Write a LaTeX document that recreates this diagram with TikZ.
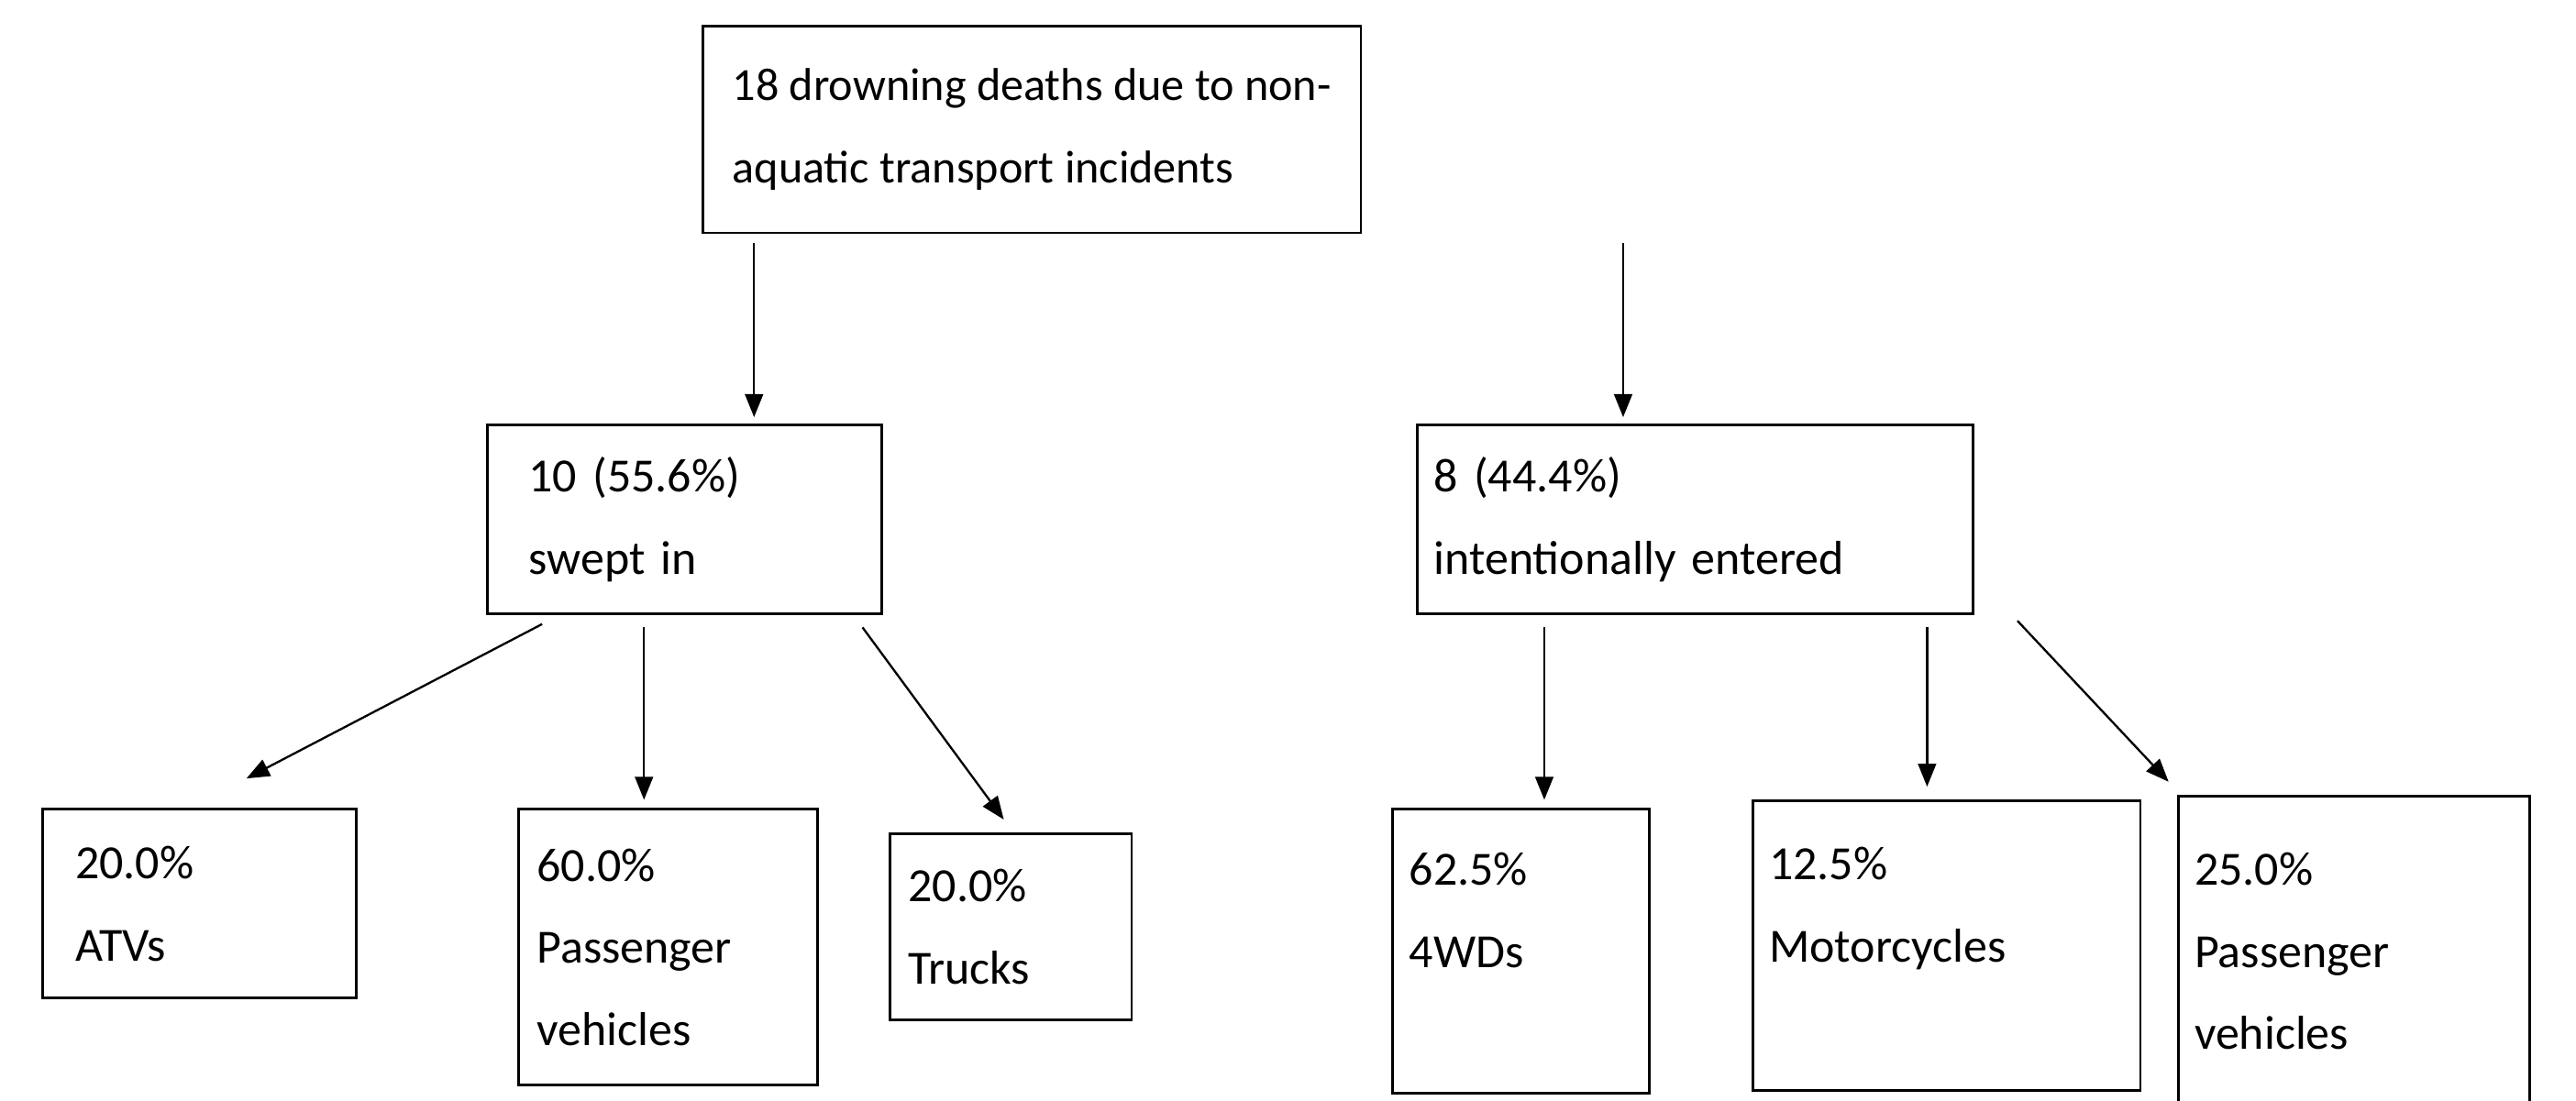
\documentclass[tikz,border=0pt]{standalone}
\usepackage{fontspec}
\setmainfont{Carlito}
\usetikzlibrary{arrows.meta}
\begin{document}
\begin{tikzpicture}[x=1pt,y=-1pt,
  box/.style={draw,line width=1.6pt,anchor=north west,align=left,inner xsep=20pt,inner ysep=0pt,font=\fontsize{29}{50}\selectfont},
  arr/.style={line width=1.3pt,-{Triangle[length=14pt,width=11pt]}}]
\useasboundingbox (0,0) rectangle (1568,670);
\node[box,minimum width=379pt,minimum height=126pt,inner xsep=18pt,font=\fontsize{28}{50}\selectfont] (top) at (427,15) {18 drowning deaths due to non-\\aquatic transport incidents};
\node[box,minimum width=215pt,minimum height=115pt,text width=190pt,inner xsep=25pt] (sw) at (296,258) {10 (55.6\%)\\swept in};
\node[box,minimum width=338pt,minimum height=115pt,text width=318pt,inner xsep=10pt] (ie) at (862,258) {8 (44.4\%)\\intentionally entered};
\node[box,minimum width=191pt,minimum height=115pt,text width=151pt] (atv) at (25,492) {20.0\%\\ATVs};
\node[box,minimum width=182pt,minimum height=168pt,text width=160pt,inner xsep=11pt] (pv) at (315,492) {60.0\%\\Passenger\\vehicles};
\node[box,minimum width=147pt,minimum height=113pt,text width=125pt,inner xsep=11pt] (tr) at (541,507) {20.0\%\\Trucks};
\node[box,minimum width=156pt,minimum height=173pt,text width=136pt,inner xsep=10pt] (wd) at (847,492) {62.5\%\\4WDs\\\mbox{}};
\node[box,minimum width=236pt,minimum height=176pt,text width=216pt,inner xsep=10pt] (mc) at (1066,487) {12.5\%\\Motorcycles\\\mbox{}};
\node[box,minimum width=214pt,minimum height=189pt,text width=194pt,inner xsep=10pt] (pv2) at (1325,484) {25.0\%\\Passenger\\vehicles};
\coordinate (a1) at (459,148); \coordinate (b1) at (459,254);
\coordinate (a2) at (988,148); \coordinate (b2) at (988,254);
\coordinate (a3) at (330,380); \coordinate (b3) at (150,474);
\coordinate (a4) at (392,382); \coordinate (b4) at (392,487);
\coordinate (a5) at (525,382); \coordinate (b5) at (611,499);
\coordinate (a6) at (940,382); \coordinate (b6) at (940,487);
\coordinate (a7) at (1173,382); \coordinate (b7) at (1173,479);
\coordinate (a8) at (1228,378); \coordinate (b8) at (1320,476);
\foreach \i in {1,...,8} \draw[arr] (a\i) -- (b\i);
\end{tikzpicture}
\end{document}
